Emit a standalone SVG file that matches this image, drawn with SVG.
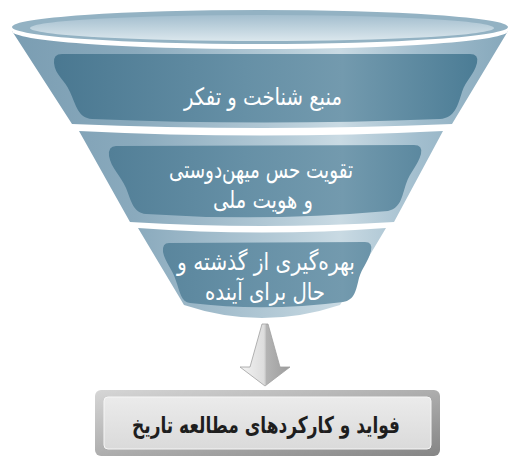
<svg xmlns="http://www.w3.org/2000/svg" width="510" height="458" viewBox="0 0 510 458">
<defs>
<linearGradient id="body" gradientUnits="userSpaceOnUse" x1="12" y1="0" x2="508" y2="0">
<stop offset="0" stop-color="#7a9db2"/><stop offset="0.25" stop-color="#8aaabd"/><stop offset="0.55" stop-color="#b6ccd8"/><stop offset="0.66" stop-color="#c9dae3"/><stop offset="0.82" stop-color="#a2bece"/><stop offset="1" stop-color="#86a8bb"/>
</linearGradient>
<linearGradient id="panel" gradientUnits="userSpaceOnUse" x1="54" y1="0" x2="478" y2="0">
<stop offset="0" stop-color="#4a7891"/><stop offset="0.45" stop-color="#6690a6"/><stop offset="0.68" stop-color="#739aae"/><stop offset="1" stop-color="#4b7c95"/>
</linearGradient>
<linearGradient id="rimIn" x1="0" y1="0" x2="0" y2="1">
<stop offset="0" stop-color="#a3bece"/><stop offset="1" stop-color="#dbe7ed"/>
</linearGradient>
<linearGradient id="arrowG" gradientUnits="userSpaceOnUse" x1="240" y1="0" x2="290" y2="0">
<stop offset="0" stop-color="#f4f4f4"/><stop offset="0.5" stop-color="#dcdcdc"/><stop offset="0.52" stop-color="#b4b4b4"/><stop offset="1" stop-color="#9c9c9c"/>
</linearGradient>
<linearGradient id="boxOut" x1="0" y1="0" x2="1" y2="1">
<stop offset="0" stop-color="#d6d6d6"/><stop offset="1" stop-color="#858585"/>
</linearGradient>
<linearGradient id="boxIn" x1="0" y1="0" x2="0" y2="1">
<stop offset="0" stop-color="#ebebeb"/><stop offset="1" stop-color="#dadada"/>
</linearGradient>
</defs>
<style>
.seg{fill:url(#body)}
.pan{fill:url(#panel)}
.wt{font-family:"DejaVu Sans",sans-serif;font-size:24px;fill:#ffffff;text-anchor:middle;direction:rtl}
.bt{font-family:"DejaVu Sans",sans-serif;font-size:23px;font-weight:bold;fill:#1e1e1e;text-anchor:middle;direction:rtl}
</style>
<g id="funnel-top">
<ellipse cx="260" cy="27" rx="248" ry="17" fill="#93b2c3"/>
<ellipse cx="262" cy="28" rx="232" ry="13" fill="url(#rimIn)"/>
</g>
<g id="node-1">
<path class="seg" d="M12 31 A248 18 0 0 0 508 31 L452 124 Q262 132 72 124 Z"/>
<path class="pan" d="M62 54 L470 54 Q479 54 477 63 C474 75 466 80 462 92 C458 105 455 118 440 119 Q262 126 92 119 C78 118 76 105 70 92 C65 80 55 75 54 63 Q53 54 62 54 Z"/>
<text class="wt" x="263" y="105" textLength="158" lengthAdjust="spacingAndGlyphs">منبع شناخت و تفکر</text>
</g>
<g id="node-2">
<path class="seg" d="M79 131 Q261 140 443 131 L394 222 Q262 230 130 222 Z"/>
<path class="pan" d="M116 146 L414 145 Q423 145 421 154 C418 165 410 172 406 184 C402 196 401 208 388 211 Q265 222 146 214 C133 213 131 200 126 188 C121 176 111 168 109 156 Q108 146 116 146 Z"/>
<text class="wt" x="261" y="178" textLength="184" lengthAdjust="spacingAndGlyphs">تقویت حس میهن‌دوستی</text>
<text class="wt" x="263" y="208" textLength="100" lengthAdjust="spacingAndGlyphs">و هویت ملی</text>
</g>
<g id="node-3">
<path class="seg" d="M138 228 Q262 237 386 228 L340 305 Q262 331 184 305 Z"/>
<path class="pan" d="M169 243 L365 242 Q373 242 371 251 C368 262 362 268 359 278 C356 290 355 300 343 302 Q265 312 190 303 C181 302 180 292 176 281 C173 270 165 262 163 252 Q162 243 169 243 Z"/>
<text class="wt" x="266" y="270" textLength="178" lengthAdjust="spacingAndGlyphs">بهره‌گیری از گذشته و</text>
<text class="wt" x="265" y="300" textLength="120" lengthAdjust="spacingAndGlyphs">حال برای آینده</text>
</g>
<g id="connectors">
<path d="M262 324 L268 324 L280 367 L290 367 L265 386 L240 367 L250 367 Z" fill="url(#arrowG)" stroke="#a0a0a0" stroke-width="0.8"/>
<path d="M265 324 L265 386" stroke="#c8c8c8" stroke-width="0.6"/>
</g>
<g id="node-4">
<rect x="95" y="390" width="345" height="66" rx="6" fill="url(#boxOut)"/>
<rect x="104" y="397" width="327" height="52" rx="4" fill="url(#boxIn)" stroke="#f6f6f6" stroke-width="1"/>
<text class="bt" x="266" y="433" textLength="268" lengthAdjust="spacingAndGlyphs">فواید و کارکردهای مطالعه تاریخ</text>
</g>
</svg>
